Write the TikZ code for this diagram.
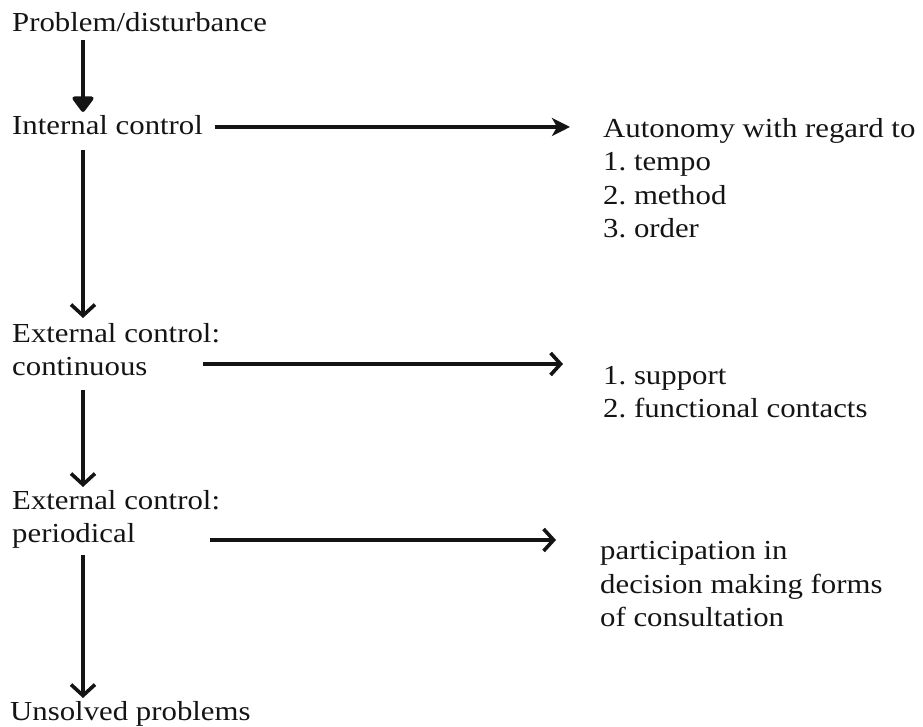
\documentclass[tikz,border=0pt]{standalone}
\usepackage{fontspec}
\setmainfont[FakeStretch=1.12]{Liberation Serif}
\usetikzlibrary{arrows.meta,calc}
\definecolor{ink}{HTML}{141414}
\begin{document}
\begin{tikzpicture}[x=1pt,y=1pt,
  lbl/.style={anchor=base west,inner sep=0pt,align=left,text=ink,
    font=\fontsize{27.5}{33.5}\selectfont},
  varr/.style={draw=ink,line width=3.6pt,
    -{Straight Barb[length=11pt,width=24pt,line width=3.6pt]}},
  firstarr/.style={draw=ink,line width=4pt,
    -{Triangle[length=17pt,width=24pt,round]}},
  harr/.style={draw=ink,line width=3.6pt,
    -{Straight Barb[length=10pt,width=22pt,line width=3.6pt]}},
  harrA/.style={draw=ink,line width=4.5pt,
    -{Stealth[length=18pt,width=18pt,inset=5pt]}}]
\useasboundingbox (0,0) rectangle (923,727);

% left column (base = baseline of last line)
\node[lbl] (prob) at (12,695) {Problem/disturbance};
\node[lbl] (int)  at (12,592) {Internal control};
\node[lbl] (ext1) at (12,351) {External control:\\continuous};
\node[lbl] (ext2) at (12,184) {External control:\\periodical};
\node[lbl] (uns)  at (10,6)   {Unsolved problems};

% right column
\node[lbl] (aut) at (603,489) {Autonomy with regard to\\1.\ tempo\\2.\ method\\3.\ order};
\node[lbl] (sup) at (603,309) {1.\ support\\2.\ functional contacts};
\node[lbl] (par) at (600,100) {participation in\\decision making forms\\of consultation};

% vertical connectors
\coordinate (col) at (83,0);
\draw[firstarr] ([yshift=-8pt]prob.base -| col) -- ([yshift=23pt]int.base -| col);
\draw[varr] ([yshift=-15pt]int.base -| col) -- ([yshift=58pt]ext1.base -| col);
\draw[varr] ([yshift=-14pt]ext1.base -| col) -- ([yshift=56pt]ext2.base -| col);
\draw[varr] ([yshift=-12pt]ext2.base -| col) -- ([yshift=23pt]uns.base -| col);

% horizontal connectors
\coordinate (a1) at ([shift={(12,8)}]int.base east);
\draw[harrA] (a1) -- ([xshift=-33pt]a1 -| aut.west);
\coordinate (b1) at ([shift={(191,12)}]ext1.base west);
\draw[harr] (b1) -- ([xshift=-40pt]b1 -| sup.west);
\coordinate (c1) at ([shift={(198,3)}]ext2.base west);
\draw[harr] (c1) -- ([xshift=-44pt]c1 -| par.west);
\end{tikzpicture}
\end{document}
